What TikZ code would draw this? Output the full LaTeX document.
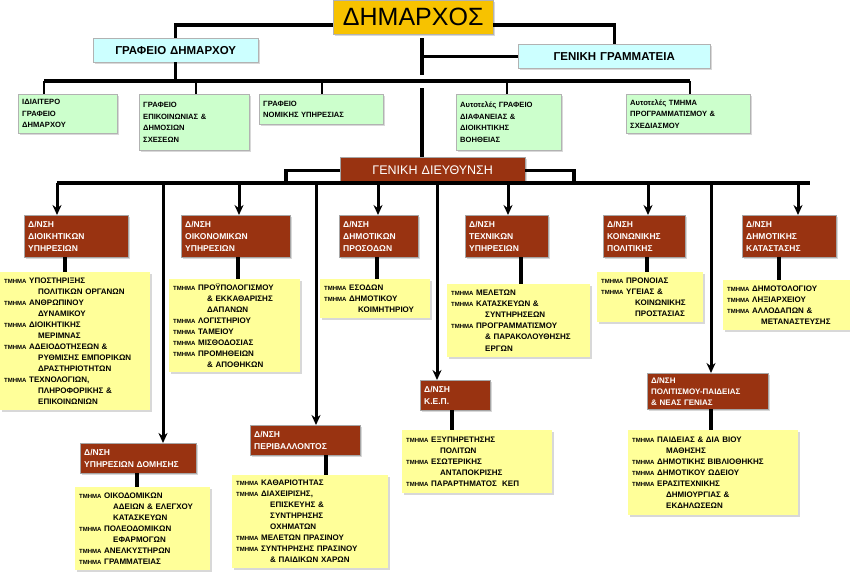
\documentclass[tikz,border=0pt]{standalone}
\usepackage{fontspec}
\setmainfont{Liberation Sans}
\usetikzlibrary{arrows.meta,shadows}
\definecolor{DimGold}{HTML}{F7C200}
\definecolor{GrafCyan}{HTML}{CCFFFF}
\definecolor{GrafGreen}{HTML}{CCFFCC}
\definecolor{DirBrown}{HTML}{993311}
\definecolor{ListYellow}{HTML}{FFFF99}
\tikzset{
  box/.style 2 args={anchor=north west, minimum width=#1, minimum height=#2, text width=#1-8pt, inner sep=4pt, drop shadow={shadow xshift=1.5pt, shadow yshift=-1.5pt, fill=gray!60}},
  dimbox/.style={fill=DimGold, draw=gray!60, align=center, font=\fontsize{25}{27}\selectfont},
  grafeio/.style={fill=GrafCyan, draw=gray!60, align=center, font=\bfseries\fontsize{11.5}{13}\selectfont},
  prasino/.style={fill=GrafGreen, draw=gray!60, align=left, font=\bfseries\fontsize{7.6}{11.5}\selectfont},
  kafe/.style={fill=DirBrown, draw=gray!70, text=white, align=left, font=\bfseries\fontsize{8.5}{12}\selectfont},
  kitrino/.style={fill=ListYellow, align=left, font=\bfseries\fontsize{8}{11}\selectfont},
  grammi/.style={line width=3.4pt},
  velos/.style={line width=3pt, -{Stealth[length=10pt, width=9pt]}}
}
\newcommand{\tm}{{\fontsize{6}{11}\selectfont ΤΜΗΜΑ} }
\newcommand{\ind}{\hspace*{34pt}}
\begin{document}
\begin{tikzpicture}[x=1pt, y=-1pt]
\useasboundingbox (0,0) rectangle (850,573);

% top level
\node[dimbox, box={160pt}{34pt}] (dim) at (333,0) {ΔΗΜΑΡΧΟΣ};
\node[grafeio, box={165pt}{24pt}] (gd) at (93,38) {ΓΡΑΦΕΙΟ ΔΗΜΑΡΧΟΥ};
\node[grafeio, box={192pt}{24pt}] (gg) at (518,44) {ΓΕΝΙΚΗ ΓΡΑΜΜΑΤΕΙΑ};

\draw[grammi] (dim.west |- 0,25) -| (gd.north);
\draw[grammi] (dim.east |- 0,25) -| (gg.north);
\coordinate (k1) at (422,38);
\coordinate (k2) at (422,75);
\coordinate (k3) at (422,88);
\draw[grammi] (k1) -- (k2);
\draw[grammi] (k1 |- gg.west) -- (gg.west);

% offices
\node[prasino, box={99pt}{39pt}] (g1) at (18,94) {ΙΔΙΑΙΤΕΡΟ\\ΓΡΑΦΕΙΟ\\ΔΗΜΑΡΧΟΥ};
\node[prasino, box={110pt}{56pt}] (g2) at (139,94) {ΓΡΑΦΕΙΟ\\ΕΠΙΚΟΙΝΩΝΙΑΣ \&\\ΔΗΜΟΣΙΩΝ\\ΣΧΕΣΕΩΝ};
\node[prasino, box={124pt}{30pt}] (g3) at (259,94) {ΓΡΑΦΕΙΟ\\ΝΟΜΙΚΗΣ ΥΠΗΡΕΣΙΑΣ};
\node[prasino, box={105pt}{56pt}] (g4) at (456,94) {Αυτοτελές ΓΡΑΦΕΙΟ\\ΔΙΑΦΑΝΕΙΑΣ \&\\ΔΙΟΙΚΗΤΙΚΗΣ\\ΒΟΗΘΕΙΑΣ};
\node[prasino, box={124pt}{39pt}] (g5) at (626,94) {Αυτοτελές ΤΜΗΜΑ\\ΠΡΟΓΡΑΜΜΑΤΙΣΜΟΥ \&\\ΣΧΕΔΙΑΣΜΟΥ};

\coordinate (p1) at (44,81);
\coordinate (p2) at (196,81);
\coordinate (p3) at (322,81);
\coordinate (p4) at (507,81);
\coordinate (p5) at (690,81);
\draw[grammi] (gd.south) -- (gd.south |- p1);
\draw[grammi] (p1) -- (p5);
\foreach \p/\g in {p1/g1, p2/g2, p3/g3, p4/g4, p5/g5}
  \draw[line width=2.6pt] (\p) -- (\p |- \g.north);

% general directorate
\node[kafe, box={185pt}{26pt}, align=center, font=\fontsize{12.5}{14}\selectfont] (gdi) at (340,157) {ΓΕΝΙΚΗ ΔΙΕΥΘΥΝΣΗ};
\draw[grammi] (k3) -- (gdi.north -| k3);
\coordinate (b0) at (57,183);
\coordinate (b9) at (810,183);
\draw[grammi] (gdi.west) -| (286,183);
\draw[grammi] (gdi.east) -| (574,183);
\draw[grammi] (b0) -- (b9);

% directorates
\node[kafe, box={104pt}{42pt}] (dioik) at (24,215) {Δ/ΝΣΗ\\ΔΙΟΙΚΗΤΙΚΩΝ\\ΥΠΗΡΕΣΙΩΝ};
\node[kafe, box={109pt}{42pt}] (oik) at (181,215) {Δ/ΝΣΗ\\ΟΙΚΟΝΟΜΙΚΩΝ\\ΥΠΗΡΕΣΙΩΝ};
\node[kafe, box={79pt}{42pt}] (pros) at (339,215) {Δ/ΝΣΗ\\ΔΗΜΟΤΙΚΩΝ\\ΠΡΟΣΟΔΩΝ};
\node[kafe, box={83pt}{42pt}] (tex) at (465,215) {Δ/ΝΣΗ\\ΤΕΧΝΙΚΩΝ\\ΥΠΗΡΕΣΙΩΝ};
\node[kafe, box={82pt}{42pt}] (koin) at (603,215) {Δ/ΝΣΗ\\ΚΟΙΝΩΝΙΚΗΣ\\ΠΟΛΙΤΙΚΗΣ};
\node[kafe, box={94pt}{42pt}] (kat) at (742,215) {Δ/ΝΣΗ\\ΔΗΜΟΤΙΚΗΣ\\ΚΑΤΑΣΤΑΣΗΣ};
\node[kafe, box={116pt}{30pt}] (dom) at (80,443) {Δ/ΝΣΗ\\ΥΠΗΡΕΣΙΩΝ ΔΟΜΗΣΗΣ};
\node[kafe, box={110pt}{30pt}] (per) at (250,425) {Δ/ΝΣΗ\\ΠΕΡΙΒΑΛΛΟΝΤΟΣ};
\node[kafe, box={70pt}{30pt}] (kep) at (420,380) {Δ/ΝΣΗ\\Κ.Ε.Π.};
\node[kafe, box={121pt}{32pt}, font=\bfseries\fontsize{8}{11}\selectfont] (pol) at (647,373) {Δ/ΝΣΗ\\ΠΟΛΙΤΙΣΜΟΥ-ΠΑΙΔΕΙΑΣ\\\& ΝΕΑΣ ΓΕΝΙΑΣ};

\foreach \x/\d in {57/dioik, 163/dom, 239/oik, 316/per, 378/pros, 437/kep, 508/tex, 648/koin, 711/pol, 798/kat}
  \draw[velos] (\x,183) -- (\x,0 |- \d.north);

% departments
\node[kitrino, box={150pt}{138pt}] (l1) at (0,272) {\tm ΥΠΟΣΤΗΡΙΞΗΣ\\\ind ΠΟΛΙΤΙΚΩΝ ΟΡΓΑΝΩΝ\\\tm ΑΝΘΡΩΠΙΝΟΥ\\\ind ΔΥΝΑΜΙΚΟΥ\\\tm ΔΙΟΙΚΗΤΙΚΗΣ\\\ind ΜΕΡΙΜΝΑΣ\\\tm ΑΔΕΙΟΔΟΤΗΣΕΩΝ \&\\\ind ΡΥΘΜΙΣΗΣ ΕΜΠΟΡΙΚΩΝ\\\ind ΔΡΑΣΤΗΡΙΟΤΗΤΩΝ\\\tm ΤΕΧΝΟΛΟΓΙΩΝ,\\\ind ΠΛΗΡΟΦΟΡΙΚΗΣ \&\\\ind ΕΠΙΚΟΙΝΩΝΙΩΝ};
\node[kitrino, box={131pt}{93pt}] (l2) at (169,279) {\tm ΠΡΟΫΠΟΛΟΓΙΣΜΟΥ\\\ind \& ΕΚΚΑΘΑΡΙΣΗΣ\\\ind ΔΑΠΑΝΩΝ\\\tm ΛΟΓΙΣΤΗΡΙΟΥ\\\tm ΤΑΜΕΙΟΥ\\\tm ΜΙΣΘΟΔΟΣΙΑΣ\\\tm ΠΡΟΜΗΘΕΙΩΝ\\\ind \& ΑΠΟΘΗΚΩΝ};
\node[kitrino, box={110pt}{39pt}] (l3) at (320,279) {\tm ΕΣΟΔΩΝ\\\tm ΔΗΜΟΤΙΚΟΥ\\\ind ΚΟΙΜΗΤΗΡΙΟΥ};
\node[kitrino, box={143pt}{73pt}] (l4) at (447,284) {\tm ΜΕΛΕΤΩΝ\\\tm ΚΑΤΑΣΚΕΥΩΝ \&\\\ind ΣΥΝΤΗΡΗΣΕΩΝ\\\tm ΠΡΟΓΡΑΜΜΑΤΙΣΜΟΥ\\\ind \& ΠΑΡΑΚΟΛΟΥΘΗΣΗΣ\\\ind ΕΡΓΩΝ};
\node[kitrino, box={106pt}{50pt}] (l5) at (597,272) {\tm ΠΡΟΝΟΙΑΣ\\\tm ΥΓΕΙΑΣ \&\\\ind ΚΟΙΝΩΝΙΚΗΣ\\\ind ΠΡΟΣΤΑΣΙΑΣ};
\node[kitrino, box={127pt}{50pt}] (l6) at (723,280) {\tm ΔΗΜΟΤΟΛΟΓΙΟΥ\\\tm ΛΗΞΙΑΡΧΕΙΟΥ\\\tm ΑΛΛΟΔΑΠΩΝ \&\\\ind ΜΕΤΑΝΑΣΤΕΥΣΗΣ};
\node[kitrino, box={135pt}{83pt}] (l7) at (75,487) {\tm ΟΙΚΟΔΟΜΙΚΩΝ\\\ind ΑΔΕΙΩΝ \& ΕΛΕΓΧΟΥ\\\ind ΚΑΤΑΣΚΕΥΩΝ\\\tm ΠΟΛΕΟΔΟΜΙΚΩΝ\\\ind ΕΦΑΡΜΟΓΩΝ\\\tm ΑΝΕΛΚΥΣΤΗΡΩΝ\\\tm ΓΡΑΜΜΑΤΕΙΑΣ};
\node[kitrino, box={156pt}{93pt}] (l8) at (232,475) {\tm ΚΑΘΑΡΙΟΤΗΤΑΣ\\\tm ΔΙΑΧΕΙΡΙΣΗΣ,\\\ind ΕΠΙΣΚΕΥΗΣ \&\\\ind ΣΥΝΤΗΡΗΣΗΣ\\\ind ΟΧΗΜΑΤΩΝ\\\tm ΜΕΛΕΤΩΝ ΠΡΑΣΙΝΟΥ\\\tm ΣΥΝΤΗΡΗΣΗΣ ΠΡΑΣΙΝΟΥ\\\ind \& ΠΑΙΔΙΚΩΝ ΧΑΡΩΝ};
\node[kitrino, box={150pt}{63pt}] (l9) at (402,430) {\tm ΕΞΥΠΗΡΕΤΗΣΗΣ\\\ind ΠΟΛΙΤΩΝ\\\tm ΕΣΩΤΕΡΙΚΗΣ\\\ind ΑΝΤΑΠΟΚΡΙΣΗΣ\\\tm ΠΑΡΑΡΤΗΜΑΤΟΣ\ \ ΚΕΠ};
\node[kitrino, box={170pt}{85pt}] (l10) at (628,430) {\tm ΠΑΙΔΕΙΑΣ \& ΔΙΑ ΒΙΟΥ\\\ind ΜΑΘΗΣΗΣ\\\tm ΔΗΜΟΤΙΚΗΣ ΒΙΒΛΙΟΘΗΚΗΣ\\\tm ΔΗΜΟΤΙΚΟΥ ΩΔΕΙΟΥ\\\tm ΕΡΑΣΙΤΕΧΝΙΚΗΣ\\\ind ΔΗΜΙΟΥΡΓΙΑΣ \&\\\ind ΕΚΔΗΛΩΣΕΩΝ};

\foreach \x/\d/\l in {65/dioik/l1, 238/oik/l2, 377/pros/l3, 521/tex/l4, 647/koin/l5, 779/kat/l6, 137/dom/l7, 326/per/l8, 452/kep/l9, 711/pol/l10}
  \draw[grammi] (\x,0 |- \d.south) -- (\x,0 |- \l.north);
\end{tikzpicture}
\end{document}
